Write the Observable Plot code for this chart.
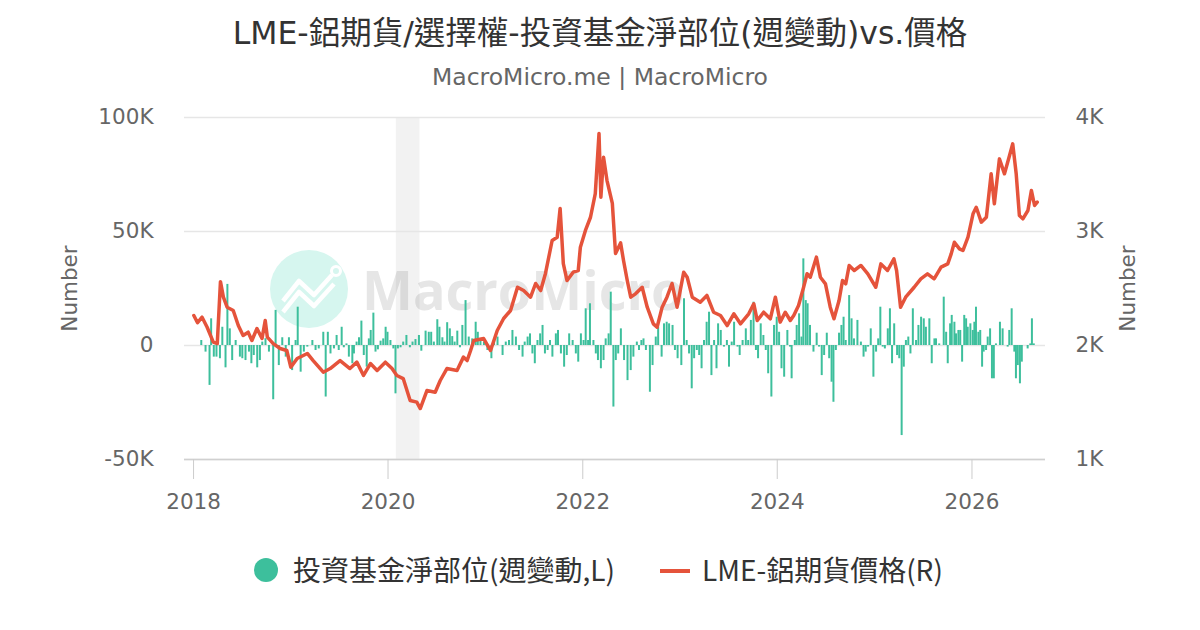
<!DOCTYPE html>
<html><head><meta charset="utf-8">
<script src="https://cdn.jsdelivr.net/npm/d3@7"></script>
<script src="https://cdn.jsdelivr.net/npm/@observablehq/plot@0.6"></script>
<style>
body{margin:0;background:#fff;width:1200px;height:630px;overflow:hidden;position:relative;font-family:"DejaVu Sans","Noto Sans CJK TC",sans-serif}
.abs{position:absolute}
#title{top:14px;left:0;width:1200px;text-align:center;font-size:31.5px;line-height:38px;color:#333}
#subtitle{top:64px;left:0;width:1200px;text-align:center;font-size:23.5px;line-height:27px;color:#666}
#chart{top:100px;left:0}
.lg{font-family:"Noto Sans CJK TC","Noto Sans",sans-serif;font-size:28px;line-height:36px;color:#333;top:551px}
</style></head><body>
<div id="title" class="abs">LME-鋁期貨/選擇權-投資基金淨部位(週變動)vs.價格</div>
<div id="subtitle" class="abs">MacroMicro.me | MacroMicro</div>
<div id="wm" class="abs" style="left:270px;top:250px">
<svg width="480" height="80">
<circle cx="39" cy="39" r="39" fill="#d6f6ef"/>
<polyline points="13,51 29,31 44,45 62,25" stroke="#fff" stroke-width="4.5" fill="none" stroke-linejoin="round"/>
<polyline points="13,62 29,42 44,56 64,34" stroke="#fff" stroke-width="4.5" fill="none" stroke-linejoin="round"/>
<circle cx="66" cy="21" r="4.5" stroke="#fff" stroke-width="3" fill="none"/>
<text x="92" y="60" font-size="54" font-weight="bold" fill="#e6e6e6" font-family="Open Sans">MacroMicro</text>
</svg></div>
<div id="chart" class="abs"></div>
<div class="abs" style="left:254px;top:558px;width:24px;height:24px;border-radius:50%;background:#3dbf9c"></div>
<div class="abs lg" style="left:293px">投資基金淨部位(週變動,L)</div>
<div class="abs" style="left:660px;top:569px;width:30px;height:4px;background:#e5533b"></div>
<div class="abs lg" style="left:702px">LME-鋁期貨價格(R)</div>
<script>
// ---- data ----
const priceDates = ["2018-01-02","2018-01-16","2018-02-02","2018-02-21","2018-03-16","2018-03-31","2018-04-12","2018-04-23","2018-05-07","2018-05-30","2018-06-18","2018-07-06","2018-07-25","2018-08-08","2018-08-27","2018-09-15","2018-09-27","2018-10-05","2018-10-27","2018-11-22","2018-12-17",
"2019-01-01","2019-01-25","2019-03-04","2019-03-26","2019-05-03","2019-05-29","2019-07-05","2019-08-11","2019-09-06","2019-10-01","2019-10-27","2019-11-21","2019-12-22",
"2020-01-16","2020-02-03","2020-02-27","2020-03-24","2020-04-18","2020-05-01","2020-05-26","2020-06-26","2020-07-15","2020-08-09","2020-09-16","2020-10-10","2020-10-24","2020-11-06","2020-11-18","2020-12-25",
"2021-01-20","2021-02-14","2021-03-10","2021-04-05","2021-05-01","2021-05-24","2021-06-19","2021-07-08","2021-07-27","2021-08-14","2021-09-08","2021-09-27","2021-10-08","2021-10-20","2021-11-03","2021-11-26","2021-12-15","2021-12-23",
"2022-01-11","2022-01-30","2022-02-17","2022-03-03","2022-03-10","2022-03-20","2022-04-02","2022-04-22","2022-05-04","2022-05-23","2022-06-03","2022-06-17","2022-06-30","2022-07-18","2022-08-12","2022-08-31","2022-09-23","2022-10-07","2022-10-26","2022-11-13","2022-12-02","2022-12-21",
"2023-01-15","2023-01-28","2023-02-16","2023-03-18","2023-04-12","2023-05-07","2023-06-02","2023-06-27","2023-07-22","2023-08-16","2023-09-16","2023-10-05","2023-10-18","2023-11-11","2023-12-06","2023-12-25",
"2024-01-12","2024-01-31","2024-02-19","2024-03-03","2024-03-21","2024-04-09","2024-04-22","2024-05-04","2024-05-27","2024-06-11","2024-06-30","2024-07-18","2024-08-01","2024-08-20","2024-09-02","2024-09-14","2024-09-27","2024-10-16","2024-11-10","2024-12-06",
"2025-01-05","2025-01-24","2025-02-18","2025-03-14","2025-03-24","2025-04-08","2025-04-27","2025-05-29","2025-06-23","2025-07-18","2025-08-12","2025-09-07","2025-10-02","2025-10-15","2025-10-27","2025-11-15","2025-11-28","2025-12-17",
"2026-01-05","2026-01-17","2026-02-05","2026-02-24","2026-03-14","2026-03-26","2026-04-14","2026-05-03","2026-05-22","2026-06-03","2026-06-16","2026-06-28","2026-07-11","2026-07-30","2026-08-12","2026-08-24","2026-09-03"];
const priceValues = [2263,2200,2248,2160,2029,2017,2560,2424,2336,2307,2175,2088,2117,2044,2149,2061,2219,2073,2017,1974,1956,
1810,1886,1930,1868,1766,1798,1868,1798,1854,1737,1842,1781,1854,
1798,1737,1710,1518,1503,1447,1605,1590,1693,1798,1781,1898,1868,1956,2044,2061,
1956,2132,2237,2307,2511,2482,2424,2544,2482,2632,2921,2950,3202,2719,2570,2643,2658,2862,
3009,3125,3333,3860,3301,3652,3447,3246,2807,2900,2746,2570,2424,2453,2511,2336,2190,2160,2336,2424,2544,2336,
2643,2599,2424,2380,2439,2292,2263,2175,2278,2190,2278,2366,2219,2292,2234,2424,
2205,2292,2219,2263,2351,2511,2629,2599,2775,2599,2541,2336,2234,2395,2570,2541,2702,2658,2702,2629,
2511,2716,2658,2760,2658,2336,2424,2511,2585,2629,2585,2687,2716,2804,2906,2848,2833,2950,
3155,3213,3082,3125,3506,3243,3637,3506,3667,3769,3506,3140,3111,3184,3360,3228,3257];

// weekly change of fund net position (thousand contracts), dates as ordinal YYYY-DDD
const barDates = ["2018-030","2018-046","2018-061","2018-067","2018-077","2018-087","2018-100","2018-109","2018-121","2018-128","2018-137","2018-146","2018-159","2018-175","2018-184","2018-196","2018-209","2018-218","2018-227","2018-240","2018-250","2018-259","2018-271","2018-284","2018-300","2018-309","2018-321","2018-334","2018-347","2018-359",
"2019-006","2019-019","2019-027","2019-038","2019-050","2019-063","2019-082","2019-094","2019-106","2019-123","2019-132","2019-140","2019-150","2019-163","2019-173","2019-181","2019-192","2019-200","2019-210","2019-219","2019-232","2019-238","2019-248","2019-257","2019-266","2019-275","2019-286","2019-294","2019-301","2019-311","2019-319","2019-328","2019-338","2019-348","2019-357","2019-364",
"2020-010","2020-021","2020-029","2020-038","2020-048","2020-058","2020-070","2020-083","2020-093","2020-104","2020-117","2020-126","2020-142","2020-154","2020-163","2020-173","2020-186","2020-194","2020-205","2020-213","2020-223","2020-233","2020-242","2020-251","2020-261","2020-271","2020-280","2020-292","2020-304","2020-317","2020-330","2020-338","2020-348","2020-361",
"2021-008","2021-023","2021-033","2021-046","2021-065","2021-077","2021-089","2021-102","2021-115","2021-127","2021-140","2021-148","2021-159","2021-168","2021-177","2021-186","2021-196","2021-206","2021-215","2021-224","2021-234","2021-243","2021-252","2021-265","2021-273","2021-284","2021-296","2021-306","2021-315","2021-328","2021-340","2021-349","2021-359",
"2022-004","2022-012","2022-021","2022-028","2022-041","2022-050","2022-058","2022-069","2022-079","2022-087","2022-098","2022-106","2022-116","2022-125","2022-134","2022-144","2022-156","2022-169","2022-181","2022-191","2022-204","2022-212","2022-221","2022-229","2022-238","2022-253","2022-263","2022-275","2022-284","2022-297","2022-306","2022-316","2022-325","2022-338","2022-347","2022-357",
"2023-006","2023-016","2023-026","2023-035","2023-045","2023-054","2023-064","2023-073","2023-082","2023-091","2023-101","2023-110","2023-119","2023-129","2023-138","2023-144","2023-154","2023-166","2023-177","2023-185","2023-195","2023-204","2023-217","2023-225","2023-236","2023-248","2023-257","2023-267","2023-277","2023-286","2023-294","2023-304","2023-314","2023-323","2023-332","2023-344","2023-354","2023-364",
"2024-008","2024-017","2024-027","2024-039","2024-049","2024-055","2024-067","2024-074","2024-083","2024-092","2024-099","2024-108","2024-115","2024-124","2024-137","2024-149","2024-158","2024-168","2024-177","2024-187","2024-196","2024-205","2024-212","2024-221","2024-233","2024-242","2024-250","2024-258","2024-271","2024-280","2024-289","2024-302","2024-315","2024-325","2024-333","2024-342","2024-352","2024-362",
"2025-006","2025-014","2025-022","2025-031","2025-039","2025-050","2025-058","2025-066","2025-074","2025-085","2025-093","2025-102","2025-110","2025-118","2025-127","2025-135","2025-144","2025-156","2025-165","2025-175","2025-185","2025-193","2025-206","2025-215","2025-225","2025-231","2025-243","2025-260","2025-269","2025-275","2025-284","2025-290","2025-300","2025-306","2025-315","2025-322","2025-329","2025-337","2025-344","2025-350","2025-360",
"2026-004","2026-010","2026-016","2026-025","2026-032","2026-039","2026-045","2026-054","2026-060","2026-069","2026-076","2026-083","2026-091","2026-106","2026-116","2026-135","2026-141","2026-150","2026-160","2026-166","2026-173","2026-181","2026-188","2026-210","2026-220","2026-226","2026-233"];
const barValues = [2.2,-2.9,-17.5,11.7,-5.1,-5.1,-5.8,8.0,-9.8,26.8,7.3,-6.6,2.2,-5.1,-5.8,-6.6,-2.9,-8.0,-4.4,-9.8,-6.6,1.5,3.0,-2.9,-23.8,15.4,-8.8,3.4,-5.1,3.4,
-11.0,2.2,16.8,-11.7,-2.9,-0.7,2.2,-2.2,-1.5,5.8,-22.6,5.8,-3.7,-1.5,4.4,-2.2,8.0,-1.0,0.7,-5.1,-8.0,-3.7,1.5,3.4,10.7,-4.4,-9.5,2.9,6.6,14.2,-2.9,-1.9,1.9,2.9,8.0,5.8,
2.2,-1.5,-21.2,-1.5,-1.0,1.5,4.4,-1.0,1.5,2.6,4.4,-2.5,6.3,5.8,5.8,1.5,11.3,8.0,3.4,1.5,10.0,7.3,3.9,1.5,6.3,-1.0,8.8,19.7,3.7,2.9,10.2,5.8,2.2,1.5,
-2.2,-5.8,2.2,3.7,-4.4,1.5,2.2,6.6,3.7,-2.2,-5.1,1.5,3.7,5.1,-3.7,-8.0,2.2,5.1,8.8,-3.7,-2.2,2.2,-5.1,5.1,6.6,-3.7,-9.5,-4.4,5.1,2.2,-3.7,-7.3,5.1,
2.2,16.1,2.2,18.3,2.2,-3.7,-6.6,-10.2,-6.6,2.9,5.1,23.4,-27.0,-6.6,-3.7,7.3,-6.6,-15.4,-11.0,-5.1,1.5,-2.2,2.2,2.9,-2.2,-20.5,-8.8,3.7,8.0,-5.1,9.5,10.2,9.5,8.8,-2.2,-5.8,
-8.8,20.5,2.2,-3.7,-19.0,-5.8,-2.2,-4.4,-10.2,2.2,10.2,14.6,-13.2,2.2,-10.2,9.5,6.6,-0.7,2.2,-9.5,1.5,10.2,-0.7,-4.4,2.2,7.3,2.2,11.0,19.0,-2.2,-5.8,9.5,4.4,-2.2,-12.4,-22.6,8.8,12.4,
5.8,-10.2,-13.9,6.6,-0.7,-14.6,2.2,8.8,13.9,3.7,38.0,19.7,18.3,8.8,-2.9,5.4,-0.7,-13.2,-4.4,5.4,-5.8,-16.1,-24.9,-2.2,5.4,8.8,12.4,2.2,21.9,11.7,2.9,11.0,1.5,-5.1,-2.9,-0.7,7.3,-13.9,
-2.9,2.9,16.8,-0.7,-1.5,7.3,16.1,-8.0,9.5,-4.4,-5.8,-39.5,-9.5,2.2,3.7,-3.7,16.1,2.2,8.8,12.4,11.7,8.0,11.7,-8.0,2.9,2.9,0.7,21.2,5.8,-8.0,9.5,13.2,10.2,5.1,6.6,6.6,-7.3,13.2,11.7,8.0,9.5,
6.6,10.2,16.8,5.8,6.6,-9.5,-2.9,-2.2,3.7,7.3,-14.6,-14.6,0.7,10.2,7.3,-0.7,6.6,16.1,-2.9,-14.6,-8.8,-16.8,-7.3,-1.5,0.7,11.7,0.7];

const recession = [{start: "2020-02-01", end: "2020-04-30"}];
const xTickYears = ["2018","2020","2022","2024","2026"];
const yTickValues = [-50000, 0, 50000, 100000];
const leftTickLabels = ["-50K","0","50K","100K"];
const rightTickLabels = ["1K","2K","3K","4K"];
const xDomain = ["2017-11-28","2026-10-04"];

// ---- build ----
const isoP = d3.utcParse("%Y-%m-%d"), ordP = d3.utcParse("%Y-%j"), yrP = d3.utcParse("%Y");
const price = priceDates.map((d,i)=>({date: isoP(d), value: priceValues[i]}));
const bars = barDates.map((d,i)=>({date: ordP(d), value: barValues[i]*1000}));
// right axis (price): 1K..4K aligned to left -50K..100K
const toLeft = p => (p - 2000) * 50;

const chart = Plot.plot({
  width: 1200, height: 440,
  marginTop: 17, marginBottom: 81, marginLeft: 184, marginRight: 155,
  x: {type: "utc", domain: xDomain.map(isoP)},
  y: {domain: [-50000, 100000]},
  style: {fontFamily: "DejaVu Sans", fontSize: "21.5px", color: "#666", background: "transparent", overflow: "visible"},
  marks: [
    Plot.rect(recession, {x1: d=>isoP(d.start), x2: d=>isoP(d.end), fill: "#000", fillOpacity: 0.05}),
    Plot.gridY(yTickValues, {stroke: "#e6e6e6", strokeOpacity: 1, strokeWidth: 1.5}),
    Plot.ruleY([-50000], {stroke: "#d0d0d0", strokeWidth: 1.5}),
    Plot.ruleX(bars, {x: "date", y1: 0, y2: "value", stroke: "#3dbf9c", strokeWidth: 2}),
    Plot.line(price, {x: "date", y: d=>toLeft(d.value), stroke: "#e5533b", strokeWidth: 3.5, strokeLinejoin: "round"}),
    Plot.axisX({ticks: xTickYears.map(yrP), tickFormat: d3.utcFormat("%Y"), tickSize: 20, tickPadding: 14, stroke: "#ccc", fill: "#666", label: null}),
    Plot.axisY({anchor: "left", ticks: yTickValues, tickFormat: d=>leftTickLabels[yTickValues.indexOf(d)], tickSize: 0, tickPadding: 31, label: "Number", labelAnchor: "center", labelArrow: "none", labelOffset: 123}),
    Plot.axisY({anchor: "right", ticks: yTickValues, tickFormat: d=>rightTickLabels[yTickValues.indexOf(d)], tickSize: 0, tickPadding: 30, label: "Number", labelAnchor: "center", labelArrow: "none", labelOffset: 89})
  ]
});
document.getElementById("chart").appendChild(chart);
</script>
</body></html>
